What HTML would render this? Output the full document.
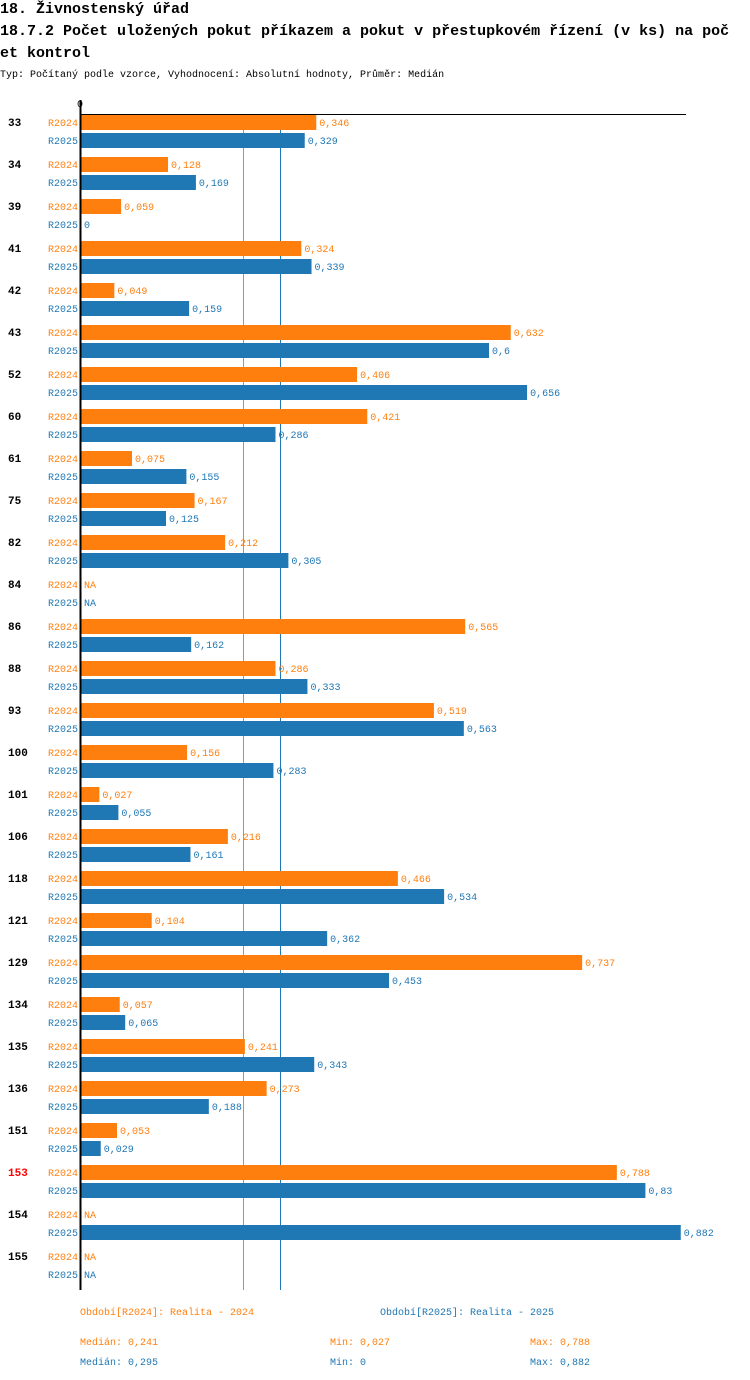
<!DOCTYPE html>
<html><head><meta charset="utf-8"><style>
body{margin:0;background:#fff;width:750px;height:1380px;overflow:hidden}
svg{display:block}
text{font-family:"Liberation Mono","DejaVu Sans Mono",monospace}
</style></head><body>
<svg id="chart" width="750" height="1380" xmlns="http://www.w3.org/2000/svg">
<text x="0" y="13" font-size="15" font-weight="bold">18. Živnostenský úřad</text>
<text x="0" y="35" font-size="15" font-weight="bold">18.7.2 Počet uložených pokut příkazem a pokut v přestupkovém řízení (v ks) na poč</text>
<text x="0" y="57" font-size="15" font-weight="bold">et kontrol</text>
<text x="0" y="77" font-size="10">Typ: Počítaný podle vzorce, Vyhodnocení: Absolutní hodnoty, Průměr: Medián</text>
<g id="plot"></g>
</svg>
<script>
const categories=["33","34","39","41","42","43","52","60","61","75","82","84","86","88","93","100","101","106","118","121","129","134","135","136","151","153","154","155"];
const values2024=[0.346,0.128,0.059,0.324,0.049,0.632,0.406,0.421,0.075,0.167,0.212,null,0.565,0.286,0.519,0.156,0.027,0.216,0.466,0.104,0.737,0.057,0.241,0.273,0.053,0.788,null,null];
const values2025=[0.329,0.169,0,0.339,0.159,0.6,0.656,0.286,0.155,0.125,0.305,null,0.162,0.333,0.563,0.283,0.055,0.161,0.534,0.362,0.453,0.065,0.343,0.188,0.029,0.83,0.882,null];
const highlight=["153"];
const median2024=0.241, median2025=0.295;
const C1="#ff7f0e", C2="#1f77b4";
const NS="http://www.w3.org/2000/svg";
const g=document.getElementById('plot');
const x0=81, scale=680;
const xs=v=>x0+v*scale;
const yRow=i=>114+i*42;
function el(t,a,txt){const e=document.createElementNS(NS,t);for(const k in a)e.setAttribute(k,a[k]);if(txt!==undefined)e.textContent=txt;g.appendChild(e);return e;}
function fmt(v){return String(v).replace('.',',');}
const m1=el('line',{x1:Math.round(xs(median2024))-1.5,x2:Math.round(xs(median2024))-1.5,y1:114,y2:1290,stroke:C1,'stroke-width':1});


const m2=el('line',{x1:Math.round(xs(median2025))-1.5,x2:Math.round(xs(median2025))-1.5,y1:114,y2:1290,stroke:C2,'stroke-width':1});


categories.forEach((c,i)=>{
  const y=yRow(i);
  const lab=el('text',{x:8,y:y+12,'font-size':11,'font-weight':'bold',fill:highlight.includes(c)?'#ff0000':'#000'},c);
  
  
  [[values2024[i],C1,'R2024',0],[values2025[i],C2,'R2025',18]].forEach(([v,col,s,off])=>{
    const sl=el('text',{x:78,y:y+off+12,'font-size':10,fill:col,'text-anchor':'end'},s);
    
    
    if(v===null){
      const na=el('text',{x:84,y:y+off+12,'font-size':10,fill:col},'NA');
      
      
      return;
    }
    const w=xs(v)-x0;
    if(w>0){
      const r=el('rect',{x:x0,y:y+off+1,width:w,height:15,fill:col});
      
      
    }
    const vl=el('text',{x:xs(v)+3,y:y+off+12,'font-size':10,fill:col},fmt(v));
    
    
  });
});
const ax=el('line',{x1:80,x2:686,y1:114.5,y2:114.5,stroke:'#000','stroke-width':1});


const ay=el('line',{x1:80.5,x2:80.5,y1:100,y2:1290,stroke:'#000','stroke-width':2});


const t0=el('text',{x:77,y:107,'font-size':10},'0');


const foot=[[80,1315,C1,'Období[R2024]: Realita - 2024','legend-entry-2024'],[380,1315,C2,'Období[R2025]: Realita - 2025','legend-entry-2025'],
[80,1345,C1,'Medián: 0,241','median-2024'],[330,1345,C1,'Min: 0,027','min-2024'],[530,1345,C1,'Max: 0,788','max-2024'],
[80,1365,C2,'Medián: 0,295','median-2025'],[330,1365,C2,'Min: 0','min-2025'],[530,1365,C2,'Max: 0,882','max-2025']];
foot.forEach(([x,y,c,t,n])=>{const e=el('text',{x:x,y:y,'font-size':10,fill:c},t);

});
</script>
</body></html>
